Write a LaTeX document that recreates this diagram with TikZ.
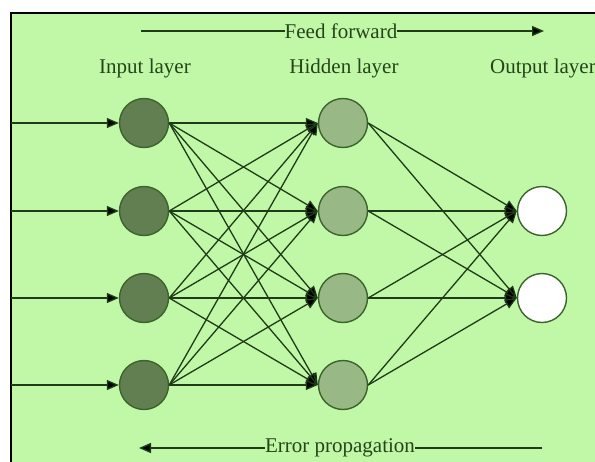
\documentclass[tikz,border=0pt]{standalone}
\usepackage{fontspec}
\setmainfont{Liberation Serif}
\usetikzlibrary{arrows.meta}
\definecolor{bg}{HTML}{C0F8A8}
\definecolor{infill}{HTML}{627F52}
\definecolor{hidfill}{HTML}{98B985}
\definecolor{nodeline}{HTML}{3D632C}
\definecolor{edgecol}{HTML}{1F3B17}
\definecolor{txtcol}{HTML}{264419}
\tikzset{
  neuron/.style={circle, minimum size=49pt, inner sep=0pt, line width=1.4pt, draw=nodeline},
  inneuron/.style={neuron, fill=infill},
  hidneuron/.style={neuron, fill=hidfill},
  outneuron/.style={neuron, fill=white},
  conn/.style={draw=edgecol, line width=1.3pt, -{Triangle[length=12pt,width=10pt,fill=black]}},
  label/.style={font=\fontsize{21}{24}\selectfont, text=txtcol, inner sep=0pt},
  banner/.style={draw=edgecol, line width=1.4pt},
}
\begin{document}
\begin{tikzpicture}[x=1pt,y=-1pt]
\useasboundingbox (0,0) rectangle (595,461);
\fill[white] (0,0) rectangle (595,461);
\fill[bg] (11,13) rectangle (600,470);
\draw[black, line width=1.6pt] (11,470) -- (11,13) -- (600,13);
% labels
\node[label] (lin) at (145,68) {Input layer};
\node[label] (lhid) at (344,68) {Hidden layer};
\node[label, anchor=west] (lout) at (490,68) {Output layer};
\node[label] (ff) at (341,31) {Feed forward};
\node[label] (ep) at (340,448) {Error propagation};
\coordinate (ffs) at (141,31);
\coordinate (ffe) at (544,31);
\coordinate (eps) at (542,448);
\coordinate (epe) at (139,448);
\draw[banner] (ffs) -- (ff.west);
\draw[banner, -{Triangle[length=12pt,width=10pt,fill=black]}] (ff.east) -- (ffe);
\draw[banner] (eps) -- (ep.east);
\draw[banner, -{Triangle[length=12pt,width=10pt,fill=black]}] (ep.west) -- (epe);
% neurons
\foreach \i/\y in {1/123,2/211,3/298,4/385} {
  \node[inneuron] (i\i) at (144,\y) {};
  \node[hidneuron] (h\i) at (343,\y) {};
  \coordinate (s\i) at (11,\y);
}
\node[outneuron] (o1) at (542,211) {};
\node[outneuron] (o2) at (542,298) {};
% connections
\foreach \i in {1,...,4} {
  \draw[conn] (s\i) -- (i\i.west);
  \foreach \j in {1,...,4} {
    \draw[conn] (i\i.east) -- (h\j.west);
  }
  \foreach \k in {1,2} {
    \draw[conn] (h\i.east) -- (o\k.west);
  }
}
\end{tikzpicture}
\end{document}
